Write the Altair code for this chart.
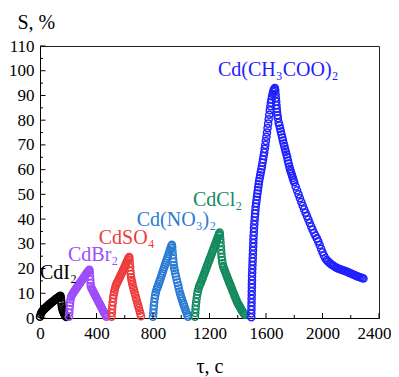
import altair as alt
import pandas as pd

names = ["CdI2", "CdBr2", "CdSO4", "Cd(NO3)2", "CdCl2", "Cd(CH3COO)2"]
colors = ["#000000", "#9d4dfa", "#ee3b3b", "#2b7bd3", "#138a5e", "#2020ff"]

cdi2_t = [0, 5, 10, 15, 20, 25, 30, 35, 40, 45, 50, 55, 60, 65, 70, 75, 80, 85, 90, 95,
          100, 105, 110, 115, 120, 125, 130, 135, 140, 145,
          148, 150, 152, 155, 158, 162, 166, 170, 175, 180, 186]
cdi2_s = [0.5, 1.5, 2.2, 2.6, 3.0, 3.3, 3.6, 3.9, 4.2, 4.4, 4.7, 5.0, 5.2, 5.5, 5.7, 6.0,
          6.2, 6.4, 6.7, 6.9, 7.1, 7.3, 7.6, 7.8, 8.0, 8.2, 8.4, 8.6, 8.8, 9.0,
          8.2, 7.0, 5.8, 4.6, 3.8, 3.0, 2.4, 1.8, 1.3, 0.8, 0.4]

cdbr2_t = [205, 207, 209, 211, 213, 216, 220,
           225, 230, 235, 240, 245, 250, 255, 260, 265, 270, 275, 280, 285, 290, 295, 300,
           305, 310, 315, 320, 325, 330, 335, 340, 345, 350,
           352, 354, 356, 358, 360,
           365, 370, 375, 380, 385, 390, 395, 400, 405, 410, 415, 420, 425, 430, 435, 440,
           445, 450, 455, 460, 465, 470]
cdbr2_s = [0.5, 2.0, 3.5, 5.0, 6.3, 7.5, 8.5,
           9.2, 9.7, 10.1, 10.6, 11.0, 11.4, 11.8, 12.3, 12.7, 13.1, 13.5, 13.9, 14.3, 14.8,
           15.2, 15.6, 16.0, 16.4, 16.9, 17.3, 17.7, 18.1, 18.5, 18.9, 19.2, 19.5,
           18.5, 17.0, 15.5, 14.0, 12.8,
           12.0, 11.5, 10.9, 10.4, 9.8, 9.3, 8.7, 8.2, 7.6, 7.1, 6.5, 6.0, 5.4, 4.9, 4.3,
           3.8, 3.2, 2.7, 2.1, 1.6, 1.0, 0.5]

cdso4_t = [506, 508, 510, 512, 515, 518, 521, 525, 529, 533,
           538, 543, 548, 553, 558, 563, 568, 573, 578, 583, 588, 593, 598, 603, 608, 613,
           618, 623, 628, 632,
           634, 636, 638, 640, 642, 645, 648, 652,
           655, 660, 665, 670, 675, 680, 685, 690, 695, 700, 705, 710, 715]
cdso4_s = [0.5, 2.0, 3.5, 5.0, 6.5, 8.0, 9.3, 10.4, 11.4, 12.4,
           13.3, 13.9, 14.5, 15.1, 15.7, 16.3, 16.9, 17.5, 18.1, 18.7, 19.3, 19.9, 20.6,
           21.2, 21.8, 22.5, 23.1, 23.7, 24.4, 24.7,
           23.5, 22.0, 20.5, 19.0, 17.8, 16.5, 15.4, 14.5,
           13.4, 12.3, 11.3, 10.2, 9.2, 8.1, 7.1, 6.0, 5.0, 4.0, 2.9, 1.8, 0.7]

cdno3_t = [800, 802, 804, 806, 809, 812, 816, 820, 825, 830,
           835, 840, 845, 850, 855, 860, 865, 870, 875, 880, 885, 890, 895, 900, 905, 910,
           915, 920, 925, 930, 934,
           936, 938, 940, 942, 944, 947, 950, 954,
           958, 963, 968, 973, 978, 983, 988, 993, 998, 1003, 1008, 1013, 1018, 1023, 1028,
           1033, 1038, 1043, 1048]
cdno3_s = [0.5, 2.0, 3.5, 5.0, 6.5, 8.0, 9.3, 10.4, 11.4, 12.3,
           12.9, 13.8, 14.6, 15.5, 16.3, 17.2, 18.0, 18.9, 19.8, 20.6, 21.5, 22.3, 23.2,
           24.0, 24.9, 25.8, 26.6, 27.5, 28.3, 29.2, 29.6,
           28.5, 27.0, 25.5, 24.0, 22.6, 21.3, 20.2, 19.2,
           18.0, 16.8, 15.5, 14.3, 13.1, 11.9, 10.7, 9.7, 8.8, 7.9, 7.0, 6.1, 5.3, 4.5, 3.6,
           2.8, 2.0, 1.2, 0.5]

cdcl2_t = [1097, 1099, 1101, 1103, 1106, 1109, 1113, 1117, 1122, 1127, 1133,
           1138, 1143, 1148, 1153, 1158, 1163, 1168, 1173, 1178, 1183, 1188, 1193, 1198,
           1203, 1208, 1213, 1218, 1223, 1228, 1233, 1238, 1243, 1248, 1253, 1258, 1263,
           1268, 1272,
           1274, 1276, 1278, 1280, 1282, 1284, 1286, 1289, 1292, 1296,
           1300, 1305, 1310, 1315, 1320, 1325, 1330, 1335, 1340, 1345, 1350, 1355, 1360,
           1365, 1370, 1375, 1380, 1385, 1390, 1395, 1400, 1405, 1410, 1415, 1420, 1425,
           1430, 1435, 1440, 1445, 1450]
cdcl2_s = [0.5, 2.0, 3.5, 5.0, 6.5, 8.0, 9.5, 10.7, 11.8, 12.8, 13.6,
           14.2, 15.0, 15.7, 16.5, 17.3, 18.0, 18.8, 19.5, 20.3, 21.1, 21.8, 22.6, 23.4,
           24.1, 24.9, 25.6, 26.4, 27.2, 27.9, 28.7, 29.5, 30.2, 31.0, 31.7, 32.5, 33.3,
           34.0, 34.6,
           33.5, 32.0, 30.5, 29.0, 27.5, 26.0, 24.6, 23.3, 22.1, 21.0,
           20.4, 19.6, 18.9, 18.1, 17.4, 16.6, 15.9, 15.2, 14.4, 13.7, 13.0, 12.3, 11.5,
           10.8, 10.1, 9.4, 8.7, 8.0, 7.3, 6.6, 6.0, 5.5, 5.0, 4.5, 4.0, 3.5,
           3.0, 2.5, 2.1, 1.7, 1.3]

cdac_t = [1496, 1496, 1497, 1497, 1498, 1498, 1499, 1499, 1500, 1500, 1501, 1501, 1502,
          1503, 1504, 1505, 1506, 1507, 1508, 1509, 1510, 1511, 1512, 1514, 1515, 1517,
          1519, 1521, 1523, 1525, 1527, 1530, 1533, 1536, 1539, 1542, 1545, 1548, 1551,
          1555, 1559, 1563, 1567, 1571, 1575, 1579, 1583, 1587, 1591, 1595, 1599, 1603,
          1607, 1611, 1615, 1619, 1623, 1627, 1631, 1635, 1639, 1643, 1647, 1651, 1655,
          1659, 1663,
          1666, 1668, 1670, 1672, 1674, 1676, 1678, 1681, 1684,
          1690, 1695, 1700, 1705, 1710, 1715, 1720, 1725, 1730, 1735, 1740, 1745, 1750,
          1755, 1760, 1765, 1770, 1775, 1780, 1785, 1790, 1795, 1800,
          1810, 1820, 1830, 1840, 1850, 1860, 1870, 1880, 1890, 1900, 1910, 1920, 1930,
          1940, 1950, 1960, 1970, 1980, 1990, 2000, 2010, 2020, 2030, 2040, 2050, 2060,
          2070, 2080, 2090, 2100, 2110, 2120, 2130, 2140, 2150, 2160, 2170, 2180, 2190,
          2200, 2210, 2220, 2230, 2240, 2250, 2260, 2270, 2280, 2290]
cdac_s = [0.3, 1.8, 3.3, 4.8, 6.3, 7.8, 9.3, 10.8, 12.3, 13.8, 15.3, 16.8, 18.3,
          19.8, 21.3, 22.8, 24.3, 25.8, 27.3, 28.8, 30.3, 31.8, 33.3, 34.8, 36.3, 37.8,
          39.3, 40.8, 42.2, 43.6, 45.0, 46.4, 47.7, 49.0, 50.3, 51.6, 52.9, 54.1, 55.3,
          56.5, 57.7, 58.9, 60.1, 61.4, 62.8, 64.1, 65.5, 66.9, 68.4, 70.0, 71.6, 73.3,
          75.0, 76.8, 78.6, 80.4, 82.2, 84.0, 85.6, 87.1, 88.4, 89.6, 90.6, 91.5, 92.2,
          92.7, 93.0,
          92.0, 90.5, 89.0, 87.5, 86.0, 84.6, 83.3, 82.0, 80.8,
          79.0, 77.8, 76.6, 75.4, 74.2, 73.0, 71.8, 70.6, 69.5, 68.3, 67.2, 66.1, 65.0,
          63.7, 62.5, 61.3, 60.2, 59.3, 58.4, 57.5, 56.6, 55.7, 54.9,
          53.2, 51.6, 50.0, 48.4, 46.9, 45.4, 44.0, 42.6, 41.2, 39.8, 38.4, 37.0, 35.7,
          34.4, 33.3, 32.2, 31.0, 29.5, 28.0, 26.6, 25.3, 24.2, 23.4, 22.8, 22.3, 21.8,
          21.4, 21.0, 20.6, 20.3, 20.0, 19.8, 19.6, 19.4, 19.2, 19.0, 18.8, 18.5, 18.3,
          18.0, 17.8, 17.5, 17.3, 17.0, 16.8, 16.6, 16.4, 16.2, 16.0]

label_text = ["CdI₂", "CdBr₂", "CdSO₄", "Cd(NO₃)₂", "CdCl₂", "Cd(CH₃COO)₂"]
label_t = [0, 198, 416, 685, 1083, 1260]
label_s = [15.8, 23.0, 30.0, 37.2, 45.3, 97.9]

x_ticks = [0, 400, 800, 1200, 1600, 2000, 2400]
x_minor = [200, 600, 1000, 1400, 1800, 2200]
y_ticks = list(range(0, 111, 10))
y_minor = list(range(5, 110, 10))

series = [cdi2_t, cdbr2_t, cdso4_t, cdno3_t, cdcl2_t, cdac_t]
values = [cdi2_s, cdbr2_s, cdso4_s, cdno3_s, cdcl2_s, cdac_s]
rows = []
k = 0
for name, ts, ss in zip(names, series, values):
    for t, s in zip(ts, ss):
        rows.append({"t": t, "s": s, "series": name, "k": k})
        k += 1
df = pd.DataFrame(rows)
lab = pd.DataFrame({"t": label_t, "s": label_s, "text": label_text, "series": names})

FONT = "Liberation Serif"
W, H = 339, 272
xscale = alt.Scale(domain=[0, 2400], nice=False, zero=False)
yscale = alt.Scale(domain=[0, 110], nice=False)
cscale = alt.Scale(domain=names, range=colors)

last_label_shift = {"condition": {"test": "datum.value === 2400", "value": -5}, "value": 0}

points = alt.Chart(df).mark_point(
    shape="circle", size=50, strokeWidth=1.5, filled=False, opacity=1
).encode(
    x=alt.X("t:Q", scale=xscale, axis=alt.Axis(
        values=x_ticks, ticks=False, grid=False, title="τ, c", titleFont=FONT,
        titleFontSize=20, titleFontWeight="normal", titleColor="black", titlePadding=15,
        labelFont=FONT, labelFontSize=17, labelColor="black", labelPadding=7,
        labelOffset=last_label_shift,
        domainColor="black", labelFlush=False, format="d")),
    y=alt.Y("s:Q", scale=yscale, axis=alt.Axis(
        values=y_ticks, ticks=False, grid=False, title="S, %", titleFont=FONT,
        titleFontSize=20, titleFontWeight="normal", titleColor="black", titleAngle=0,
        titleAlign="left", titleBaseline="alphabetic", titleX=-23, titleY=-18,
        labelFont=FONT, labelFontSize=17, labelColor="black", labelPadding=6,
        domainColor="black", labelFlush=False, format="d")),
    stroke=alt.Stroke("series:N", scale=cscale, legend=None),
    order=alt.Order("k:Q"),
)


def xtick_layer(vals, length):
    d = pd.DataFrame({"v": vals})
    return alt.Chart(d).mark_rule(color="black", strokeWidth=1).encode(
        x=alt.X("v:Q", scale=xscale, axis=None),
        y=alt.value(H), y2=alt.value(H - length))


def ytick_layer(vals, length):
    d = pd.DataFrame({"v": vals})
    return alt.Chart(d).mark_rule(color="black", strokeWidth=1).encode(
        y=alt.Y("v:Q", scale=yscale, axis=None),
        x=alt.value(0), x2=alt.value(length))


texts = alt.Chart(lab).mark_text(
    align="left", baseline="alphabetic", font=FONT, fontSize=20
).encode(
    x=alt.X("t:Q", scale=xscale, axis=None),
    y=alt.Y("s:Q", scale=yscale, axis=None),
    text="text:N",
    color=alt.Color("series:N", scale=cscale, legend=None),
)

chart = alt.layer(
    points,
    xtick_layer(x_ticks, 5), xtick_layer(x_minor, 3),
    ytick_layer(y_ticks, 5.5), ytick_layer(y_minor, 3),
    texts,
).resolve_axis(
    x="independent", y="independent"
).properties(
    width=W, height=H,
    autosize=alt.AutoSizeParams(type="none"),
    padding={"left": 32, "top": 38, "right": 12, "bottom": 59},
).configure_view(stroke="#222", strokeWidth=1)

chart.save("out.html", embed_options={"renderer": "svg", "actions": False})
